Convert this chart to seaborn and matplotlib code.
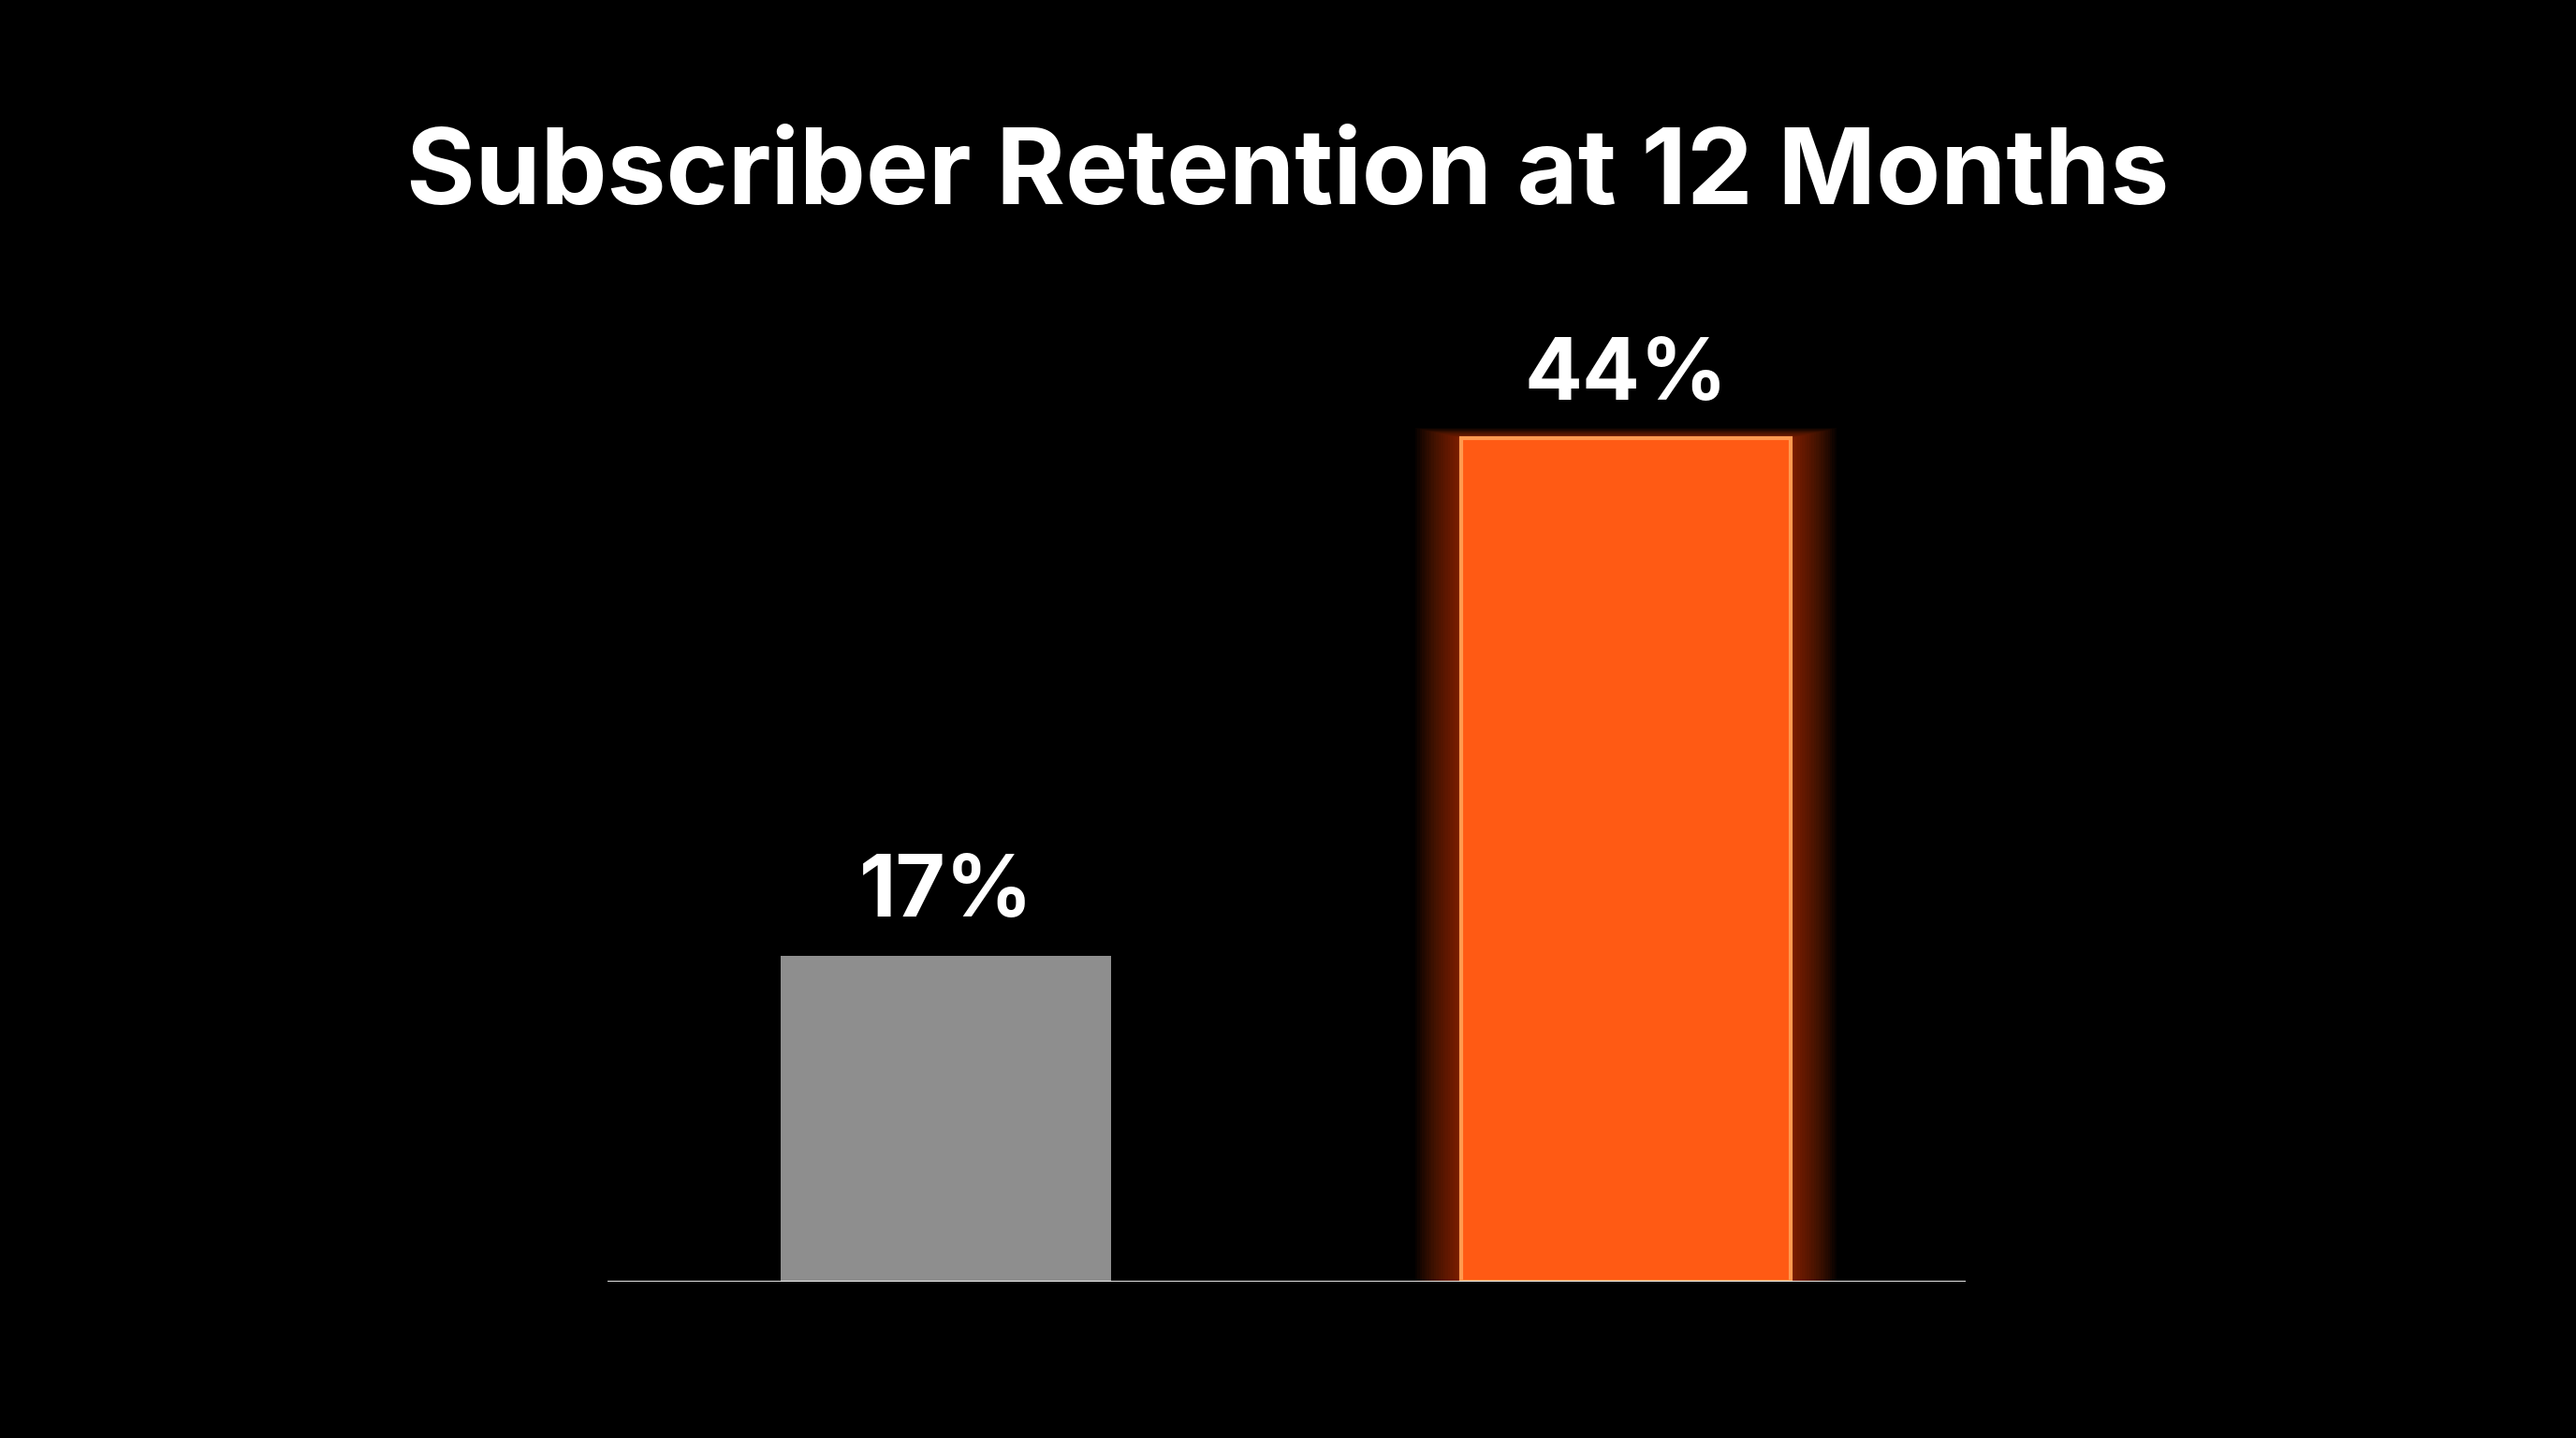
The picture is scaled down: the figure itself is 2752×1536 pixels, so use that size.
import matplotlib
matplotlib.use("Agg")
import matplotlib.pyplot as plt
import seaborn as sns
import pandas as pd
import numpy as np

# data
groups = ["Before", "After"]
retention = [17, 44]
labels = ["17%", "44%"]
bar_colors = ["#8e8e8e", "#ff5a14"]

sns.set_theme(style="dark")
plt.rcParams['font.family'] = ['Inter', 'DejaVu Sans']

df = pd.DataFrame({"group": groups, "retention": retention})

fig = plt.figure(figsize=(27.52, 15.36), dpi=100, facecolor="black")
ax = fig.add_axes([0.236, 0.109, 0.527, 0.666])
ax.set_facecolor("black")

# soft glow behind the highlighted bar
for w in np.linspace(0.62, 0.49, 20):
    pad = w - 0.485
    ax.bar(1, retention[1] + pad * 9, width=w, bottom=-pad * 5,
           color="#ff4a00", alpha=0.035, linewidth=0, zorder=1)

sns.barplot(data=df, x="group", y="retention", hue="group", palette=bar_colors,
            width=0.485, legend=False, ax=ax, zorder=2, linewidth=0, saturation=1)
ax.bar(1, retention[1], width=0.485, color="none", edgecolor="#ff9a50",
       linewidth=3, zorder=3)

for i, (v, t) in enumerate(zip(retention, labels)):
    ax.text(i, v + 1.1, t, ha="center", va="bottom", color="white",
            fontsize=66, fontweight="bold", zorder=4)

ax.set_xlim(-0.497, 1.499)
ax.set_ylim(0, 50)
ax.axhline(0, color="white", linewidth=2, zorder=5)
ax.set_xticks([])
ax.set_yticks([])
ax.set_xlabel("")
ax.set_ylabel("")
for s in ax.spines.values():
    s.set_visible(False)
ax.grid(False)

fig.text(0.5, 0.877, "Subscriber Retention at 12 Months", ha="center", va="center",
         color="white", fontsize=81, fontweight="bold")

fig.savefig("out.png", dpi=100, facecolor="black")
